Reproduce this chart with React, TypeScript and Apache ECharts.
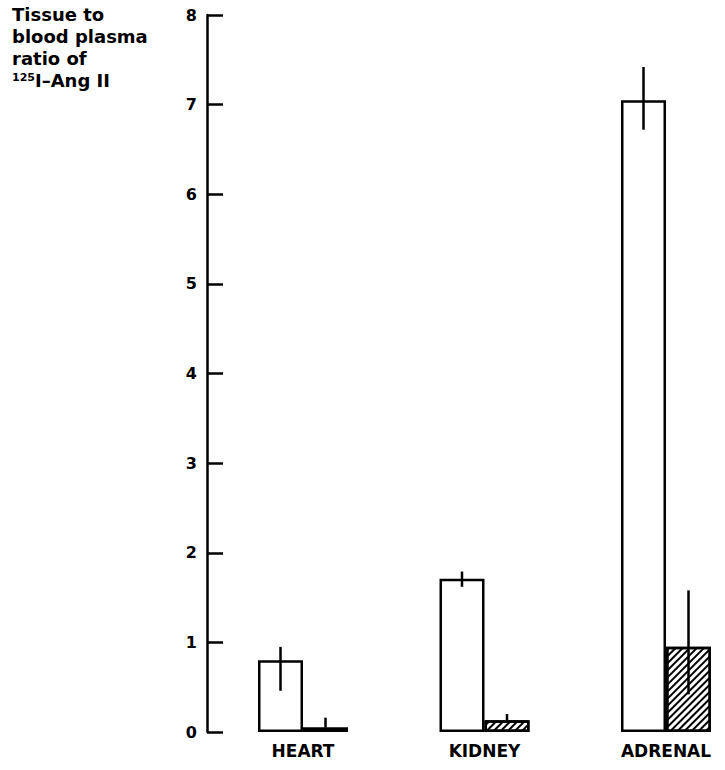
import React, { useEffect, useRef } from "react";
import * as echarts from "echarts";

const categories = ["HEART", "KIDNEY", "ADRENAL"];
const controlValues = [0.8, 1.71, 7.05];
const controlLow = [0.46, 1.62, 6.72];
const controlHigh = [0.95, 1.79, 7.42];
const treatedValues = [0.05, 0.13, 0.95];
const treatedLow = [0.05, 0.13, 0.42];
const treatedHigh = [0.16, 0.2, 1.58];
const yTicks = [0, 1, 2, 3, 4, 5, 6, 7, 8];

const BAR_W = 45;

export default function App() {
  const ref = useRef<HTMLDivElement>(null);
  useEffect(() => {
    if (!ref.current) return;
    const chart = echarts.init(ref.current, null, { renderer: "svg" });
    const errData: number[][] = [];
    categories.forEach((_, i) => {
      errData.push([i, controlLow[i], controlHigh[i], -1]);
      errData.push([i, treatedLow[i], treatedHigh[i], 1]);
    });
    const font = "'DejaVu Sans', Arial, sans-serif";
    chart.setOption({
      animation: false,
      backgroundColor: "#fff",
      grid: { left: 303, top: 15, width: 363, height: 717 },
      graphic: [
        {
          type: "text",
          left: 12,
          top: 3,
          style: {
            text: "Tissue to\nblood plasma\nratio of\n{sup|125}I–Ang II",
            font: `bold 18px ${font}`,
            fill: "#000",
            lineHeight: 22,
            rich: {
              sup: { fontSize: 11, fontWeight: "bold", fontFamily: font, fill: "#000", padding: [0, 0, 6, 0] },
            },
          },
        },
      ],
      xAxis: {
        type: "category",
        data: categories,
        boundaryGap: false,
        axisLine: { show: false },
        axisTick: { show: false },
        axisLabel: { color: "#000", fontSize: 17, fontWeight: "bold", fontFamily: font, margin: 10, interval: 0 },
      },
      yAxis: {
        type: "value",
        min: yTicks[0],
        max: yTicks[yTicks.length - 1],
        interval: 1,
        offset: 96,
        axisLine: { show: true, lineStyle: { color: "#000", width: 2.5 } },
        axisTick: { show: true, inside: true, length: 16, lineStyle: { color: "#000", width: 2.5 } },
        axisLabel: { color: "#000", fontSize: 16, fontWeight: "bold", fontFamily: font, margin: 10 },
        splitLine: { show: false },
      },
      series: [
        {
          type: "bar",
          data: controlValues,
          barWidth: BAR_W,
          barGap: "0%",
          clip: false,
          itemStyle: { color: "#fff", borderColor: "#000", borderWidth: 2.5 },
        },
        {
          type: "bar",
          data: treatedValues,
          barWidth: BAR_W,
          barGap: "0%",
          clip: false,
          itemStyle: {
            color: "#fff",
            borderColor: "#000",
            borderWidth: 2.5,
            decal: {
              symbol: "rect",
              symbolSize: 1,
              dashArrayX: [[1, 0]],
              dashArrayY: [2, 3],
              rotation: -Math.PI / 4,
              color: "#000",
              backgroundColor: "#fff",
            },
          },
        },
        {
          type: "custom",
          data: errData,
          z: 10,
          clip: false,
          renderItem: (params: any, api: any) => {
            const i = api.value(0);
            const lo = api.coord([i, api.value(1)]);
            const hi = api.coord([i, api.value(2)]);
            const x = lo[0] + api.value(3) * (BAR_W / 2);
            return {
              type: "line",
              shape: { x1: x, y1: lo[1], x2: x, y2: hi[1] },
              style: { stroke: "#000", lineWidth: 2.5 },
            };
          },
        },
      ],
    });
    return () => chart.dispose();
  }, []);
  return <div ref={ref} style={{ position: "fixed", left: 0, top: 0, width: 725, height: 770 }} />;
}
